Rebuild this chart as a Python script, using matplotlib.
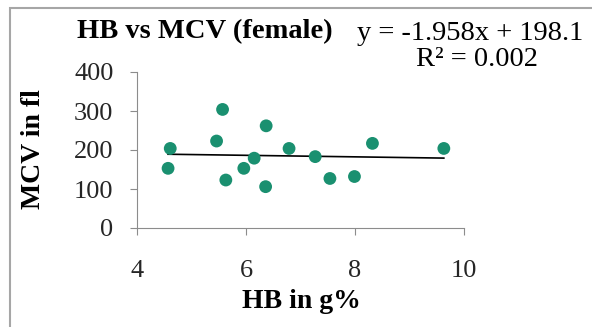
import numpy as np
import matplotlib.pyplot as plt
from matplotlib.patches import Rectangle

# HB (g%) vs MCV (fl), female group
hb = [4.61, 4.57, 5.57, 5.46, 5.63, 5.96, 6.15, 6.37, 6.36, 6.79,
      7.27, 7.54, 7.99, 8.32, 9.63]
mcv = [204, 153, 304, 223, 123, 153, 179, 262, 106, 204,
       183, 127, 132, 217, 204]

slope, intercept = -1.958, 198.1
x_ticks = [4, 6, 8, 10]
y_ticks = [0, 100, 200, 300, 400]

plt.rcParams['font.family'] = ['Liberation Serif', 'DejaVu Serif']

fig = plt.figure(figsize=(5.92, 3.27), dpi=100)
fig.patches.append(Rectangle((10 / 592, -0.05), 1.2, (327 - 8) / 327 + 0.05,
                             transform=fig.transFigure, fill=False,
                             edgecolor="#a6a6a6", lw=1.5))

ax = fig.add_axes([137 / 592, 99 / 327, 327 / 592, 156 / 327])

ax.scatter(hb, mcv, s=85, color="#1a9070", edgecolors="none", zorder=3)

xfit = np.array([min(hb), max(hb)])
ax.plot(xfit, slope * xfit + intercept, color="black", lw=1.2, zorder=2)

ax.set_xlim(4, 10)
ax.set_ylim(0, 400)
ax.set_xticks(x_ticks)
ax.set_yticks(y_ticks)
for s in ["top", "right"]:
    ax.spines[s].set_visible(False)
for s in ["left", "bottom"]:
    ax.spines[s].set_color("#8c8c8c")
ax.tick_params(axis="both", direction="out", color="#8c8c8c", length=5,
               labelsize=19, labelcolor="#262626")
ax.tick_params(axis="y", pad=12)
ax.tick_params(axis="x", pad=18)

fig.text(205 / 592, 1 - 32 / 327, "HB vs MCV (female)", fontsize=20.5,
         fontweight="bold", ha="center", va="center")
fig.text(470 / 592, 1 - 33 / 327, "y = -1.958x + 198.1", fontsize=20.5,
         ha="center", va="center")
fig.text(477 / 592, 1 - 60 / 327, "R² = 0.002", fontsize=20.5,
         ha="center", va="center")
fig.text(301 / 592, 1 - 302 / 327, "HB in g%", fontsize=20,
         fontweight="bold", ha="center", va="center")
fig.text(34 / 592, 1 - 149 / 327, "MCV in fl", fontsize=20,
         fontweight="bold", ha="center", va="center", rotation=90)

fig.savefig("out.png", dpi=100)
